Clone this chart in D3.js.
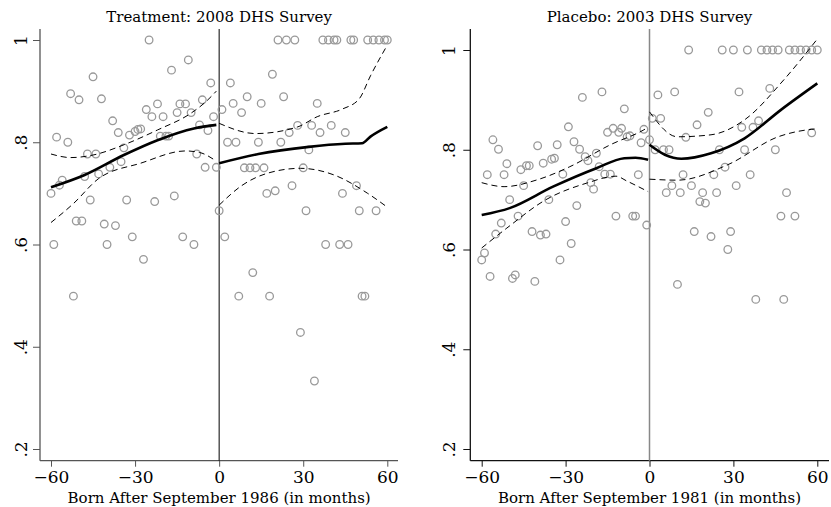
<!DOCTYPE html>
<html lang="en">
<head>
<meta charset="UTF-8">
<title>RD plots: 2008 vs 2003 DHS</title>
<style>
  body { margin: 0; background: #fff; }
  svg text { font-family: "DejaVu Serif", serif; fill: #000; }
</style>
</head>
<body>
<svg id="chart" width="831" height="507"></svg>

<script src="https://cdn.jsdelivr.net/npm/d3@7/dist/d3.min.js"></script>
<script>
// ---- data ----
const xTicks = [-60, -30, 0, 30, 60]
const yTicks = [0.2, 0.4, 0.6, 0.8, 1]

// Treatment: 2008 DHS (monthly means)
const treatMonth = [-60,-59,-58,-57,-56,-54,-53,-52,-51,-50,-49,-48,-47,-46,-45,-44,-43,-42,-41,-40,-39,-38,-37,-36,-35,-34,-33,-32,-31,-30,-29,-28,-27,-26,-25,-24,-23,-22,-21,-20,-19,-18,-17,-16,-15,-14,-13,-12,-11,-10,-9,-8,-7,-6,-5,-4,-3,-2,-1,
  0,1,2,3,4,5,6,7,8,9,10,11,12,13,14,15,16,17,18,19,20,21,22,23,24,25,26,27,28,29,30,31,32,33,34,35,36,37,38,39,40,41,42,43,44,45,46,47,48,49,50,51,52,53,55,56,57,59,60]
const treatMean = [0.70,0.60,0.81,0.716,0.726,0.80,0.895,0.499,0.646,0.883,0.646,0.733,0.777,0.687,0.928,0.777,0.738,0.885,0.64,0.60,0.751,0.842,0.637,0.819,0.762,0.789,0.687,0.814,0.615,0.821,0.825,0.826,0.571,0.864,1.0,0.85,0.684,0.875,0.812,0.85,0.812,0.812,0.941,0.695,0.858,0.875,0.615,0.875,0.961,0.858,0.60,0.777,0.834,0.883,0.751,0.823,0.916,0.85,0.751,
  0.666,0.864,0.615,0.80,0.916,0.876,0.80,0.499,0.858,0.75,0.889,0.75,0.545,0.75,0.80,0.876,0.75,0.70,0.499,0.933,0.705,1,0.80,0.889,1,0.819,0.715,1,0.833,0.428,0.75,0.666,0.785,0.833,0.333,0.876,0.819,1,0.60,1,0.833,1,1,0.60,0.70,0.819,0.60,1,1,0.715,0.666,0.499,0.499,1,1,0.666,1,1,1]

// Treatment fitted line and confidence band, each side of the cutoff
const treatPreX  = [-60,-48,-34,-22,-9,-5,-1]
const treatPreFit = [0.712,0.736,0.775,0.804,0.827,0.831,0.834]
const treatPreHiX = [-60,-53,-45,-34,-22,-10,-5,-1]
const treatPreHi = [0.777,0.770,0.775,0.795,0.824,0.857,0.878,0.900]
const treatPreLoX = [-60,-52,-43,-28,-12,-7,-1]
const treatPreLo = [0.643,0.68,0.729,0.759,0.783,0.78,0.763]
const treatPostX = [0,14,32,45,51,54,60]
const treatPostFit = [0.759,0.777,0.791,0.797,0.798,0.811,0.830]
const treatPostHiX = [0,13,28,35,44,50,54,60]
const treatPostHi = [0.837,0.817,0.83,0.85,0.865,0.885,0.93,0.99]
const treatPostLoX = [0,8,17,29,41,53,60]
const treatPostLo = [0.677,0.715,0.739,0.749,0.736,0.70,0.673]

// Placebo: 2003 DHS (monthly means)
const placeboMonth = [-60,-59,-58,-57,-56,-55,-54,-53,-52,-51,-50,-49,-48,-47,-46,-45,-44,-43,-42,-41,-40,-39,-38,-37,-36,-35,-34,-33,-32,-31,-30,-29,-28,-27,-26,-25,-24,-23,-22,-21,-20,-19,-18,-17,-16,-15,-14,-13,-12,-11,-10,-9,-8,-7,-6,-5,-4,-3,-2,-1,
  0,1,2,3,4,5,6,7,8,9,10,11,12,13,14,15,16,17,18,19,20,21,22,23,24,25,26,27,28,29,30,31,32,33,34,35,36,37,38,39,40,42,43,44,45,46,47,48,49,50,52,52,54,56,58,58,60]
const placeboMean = [0.579,0.593,0.75,0.546,0.82,0.631,0.801,0.653,0.75,0.772,0.70,0.542,0.549,0.667,0.76,0.728,0.768,0.768,0.636,0.536,0.808,0.629,0.773,0.631,0.70,0.781,0.783,0.81,0.579,0.751,0.656,0.846,0.612,0.816,0.688,0.801,0.905,0.786,0.778,0.734,0.721,0.793,0.766,0.916,0.751,0.835,0.751,0.843,0.667,0.835,0.843,0.882,0.826,0.828,0.667,0.667,0.75,0.814,0.841,0.649,
  0.82,0.863,0.80,0.91,0.863,0.80,0.714,0.80,0.728,0.916,0.53,0.714,0.75,0.825,1,0.728,0.636,0.85,0.696,0.714,0.693,0.875,0.626,0.75,0.714,0.80,1,0.765,0.60,0.636,1,0.728,0.916,0.845,0.80,1,0.75,0.845,0.50,0.858,1,1,0.923,1,0.80,1,0.667,0.50,0.714,1,1,0.667,1,1,1,0.834,1]

const placeboPreX = [-60,-50,-34.5,-19,-9,-5,-0.5]
const placeboPreFit = [0.669,0.683,0.726,0.763,0.783,0.784,0.78]
const placeboPreHiX = [-60,-52,-40,-28.5,-14,-2,-0.5]
const placeboPreHi = [0.734,0.726,0.74,0.766,0.81,0.84,0.845]
const placeboPreLoX = [-60,-51,-37,-22.5,-12,-8,-0.5]
const placeboPreLo = [0.603,0.643,0.70,0.733,0.747,0.737,0.716]
const placeboPostX = [0,5.5,11.4,22,34,47,60]
const placeboPostFit = [0.81,0.79,0.782,0.793,0.823,0.88,0.933]
const placeboPostHiX = [0,10,22,34,48,60]
const placeboPostHi = [0.876,0.826,0.83,0.86,0.94,1.022]
const placeboPostLoX = [0,10,28,46,58,60]
const placeboPostLo = [0.741,0.739,0.77,0.826,0.841,0.842]

const zip = (xs, ys) => xs.map((x, i) => [x, ys[i]])

const svg = d3.select("#chart")

function drawPanel(p) {
    let x = d3.scaleLinear().domain([-60, 60]).range(p.xRange)
    let y = d3.scaleLinear().domain([0.2, 1]).range(p.yRange)
    let g = svg.append("g")

    // title + x label
    g.append("text").attr("x", x(0)).attr("y", 21.5)
        .attr("text-anchor", "middle").style("font-size", "15px").text(p.title)
    g.append("text").attr("x", x(0)).attr("y", 503)
        .attr("text-anchor", "middle").style("font-size", "15px").text(p.xLabel)

    // axes
    let xAxis = g.append("g").attr("transform", `translate(0,${p.bottom})`)
        .call(d3.axisBottom(x).tickValues(xTicks).tickSize(6).tickPadding(4))
    xAxis.select(".domain").remove()
    xAxis.selectAll("line").attr("stroke", p.axisColor)
    xAxis.selectAll("text").style("font-size", "17px")

    let yAxis = g.append("g").attr("transform", `translate(${p.left},0)`)
        .call(d3.axisLeft(y).tickValues(yTicks).tickSize(7)
            .tickFormat(d => d === 1 ? "1" : d3.format(".1f")(d).replace(/^0/, "")))
    yAxis.select(".domain").remove()
    yAxis.selectAll("line").attr("stroke", p.axisColor)
    yAxis.selectAll("text")
        .attr("x", null).attr("dy", null)
        .attr("text-anchor", "middle")
        .attr("transform", `translate(${p.labelOff},0) rotate(-90)`)
        .style("font-size", "17px")

    g.append("line").attr("x1", p.left).attr("x2", p.left)
        .attr("y1", p.top).attr("y2", p.bottom).attr("stroke", p.axisColor).attr("stroke-width", 1.3)
    g.append("line").attr("x1", p.left).attr("x2", p.right)
        .attr("y1", p.bottom).attr("y2", p.bottom).attr("stroke", p.axisColor).attr("stroke-width", 1.3)

    // cutoff
    g.append("line").attr("x1", x(0)).attr("x2", x(0))
        .attr("y1", p.top).attr("y2", p.bottom)
        .attr("stroke", p.cutColor).attr("stroke-width", p.cutWidth)

    // scatter
    g.selectAll("circle.pt")
        .data(zip(p.month, p.mean))
        .enter()
        .append("circle")
        .attr("class", "pt")
        .attr("cx", d => x(d[0]))
        .attr("cy", d => y(d[1]))
        .attr("r", 3.8)
        .style("fill", "none")
        .style("stroke", "#999")
        .style("stroke-width", 1.3)

    let line = d3.line().x(d => x(d[0])).y(d => y(d[1])).curve(d3.curveMonotoneX)

    p.bands.forEach(b => {
        g.append("path").attr("d", line(b))
            .attr("fill", "none").attr("stroke", "#000")
            .attr("stroke-width", 1).attr("stroke-dasharray", "6,4")
    })
    p.fits.forEach(f => {
        g.append("path").attr("d", line(f))
            .attr("fill", "none").attr("stroke", "#000").attr("stroke-width", 2.6)
    })
}

drawPanel({
    title: "Treatment: 2008 DHS Survey",
    xLabel: "Born After September 1986 (in months)",
    xRange: [51, 387.3], yRange: [449, 40],
    left: 40, right: 398, top: 29, bottom: 460.7,
    labelOff: -13, axisColor: "#555", cutColor: "#000", cutWidth: 1,
    month: treatMonth, mean: treatMean,
    fits: [zip(treatPreX, treatPreFit), zip(treatPostX, treatPostFit)],
    bands: [zip(treatPreHiX, treatPreHi), zip(treatPreLoX, treatPreLo),
            zip(treatPostHiX, treatPostHi), zip(treatPostLoX, treatPostLo)]
})

drawPanel({
    title: "Placebo: 2003 DHS Survey",
    xLabel: "Born After September 1981 (in months)",
    xRange: [481.7, 817.3], yRange: [449, 50],
    left: 470.3, right: 829, top: 29, bottom: 460.7,
    labelOff: -15, axisColor: "#111", cutColor: "#888", cutWidth: 1.5,
    month: placeboMonth, mean: placeboMean,
    fits: [zip(placeboPreX, placeboPreFit), zip(placeboPostX, placeboPostFit)],
    bands: [zip(placeboPreHiX, placeboPreHi), zip(placeboPreLoX, placeboPreLo),
            zip(placeboPostHiX, placeboPostHi), zip(placeboPostLoX, placeboPostLo)]
})
</script>
</body>
</html>
